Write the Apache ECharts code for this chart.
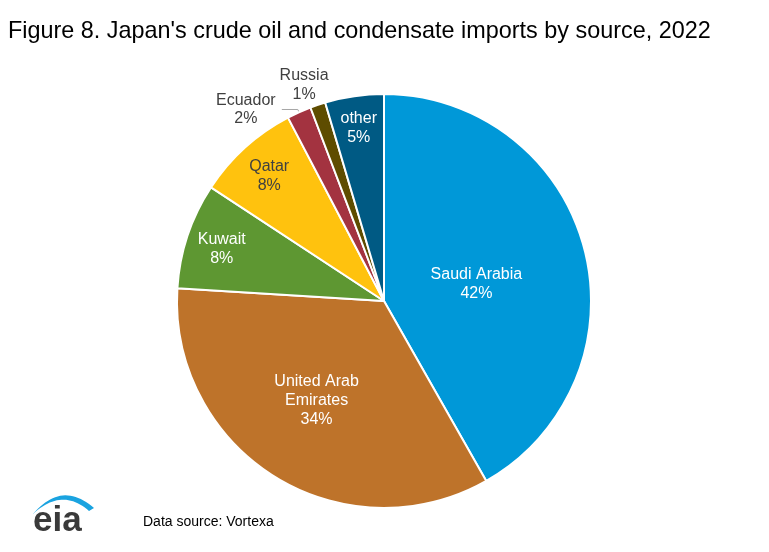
<!DOCTYPE html>
<html>
<head>
<meta charset="utf-8">
<script src="https://cdn.jsdelivr.net/npm/echarts@6/dist/echarts.min.js"></script>
<style>
html,body{margin:0;padding:0;background:#fff;}
#c{width:769px;height:552px;}
</style>
</head>
<body>
<div id="c"></div>
<script>
const categories = ['Saudi Arabia', 'United Arab\nEmirates', 'Kuwait', 'Qatar', 'Ecuador', 'Russia', 'other'];
const values = [41.9, 34.3, 8.3, 8.1, 1.9, 1.2, 4.6];
const colors = ['#0098D8', '#BE732A', '#5E9732', '#FFC20E', '#A33340', '#5E4C00', '#005A84'];
const labelColors = ['#ffffff', '#ffffff', '#ffffff', '#404040', '#404040', '#404040', '#ffffff'];

const chart = echarts.init(document.getElementById('c'));
const FONT = '"Liberation Sans", Arial, sans-serif';
const CENTER = [384, 301];
const R = 207;

function pctFmt(p) { return p.name + '\n' + Math.round(p.percent) + '%'; }

function labelSeries(radius, names, dx, dy) {
  return {
    type: 'pie', center: CENTER, radius: [0, radius], silent: true,
    startAngle: 90, clockwise: true, minShowLabelAngle: 0,
    avoidLabelOverlap: false, z: 5,
    itemStyle: { color: 'rgba(0,0,0,0)', borderWidth: 0 },
    emphasis: { disabled: true },
    labelLine: { show: false },
    labelLayout: { dx: dx || 0, dy: dy || 0 },
    data: categories.map((c, i) => ({
      name: c, value: values[i],
      label: {
        show: names.indexOf(i) >= 0, position: 'inside', formatter: pctFmt,
        color: labelColors[i], fontSize: 16, fontFamily: FONT, lineHeight: 19
      }
    }))
  };
}

const mainData = categories.map((c, i) => {
  const d = { name: c, value: values[i], itemStyle: { color: colors[i] }, label: { show: false } };
  if (i === 4) {
    d.label = {
      show: true, position: 'outside',
      formatter: p => '{a|' + p.name + '}\n{a|' + Math.round(p.percent) + '%}',
      rich: { a: { width: 62, align: 'center', color: '#404040', fontSize: 16, fontFamily: FONT, lineHeight: 18 } }
    };
    d.labelLine = { show: true, length: 3, length2: 16, lineStyle: { color: '#a6a6a6', width: 1 } };
  }
  return d;
});

// swoosh of the logo (decoration)
function quad(p0, p1, p2, n) {
  const pts = [];
  for (let k = 0; k <= n; k++) {
    const t = k / n;
    pts.push([(1 - t) * (1 - t) * p0[0] + 2 * t * (1 - t) * p1[0] + t * t * p2[0],
              (1 - t) * (1 - t) * p0[1] + 2 * t * (1 - t) * p1[1] + t * t * p2[1]]);
  }
  return pts;
}
const swoosh = quad([33, 514], [62, 480], [94, 508], 24).concat(quad([89, 511], [62, 487], [33, 514], 24));

chart.setOption({
  animation: false,
  title: {
    text: "Figure 8. Japan's crude oil and condensate imports by source, 2022",
    left: 3, top: 15,
    textStyle: { fontFamily: FONT, fontSize: 23.4, fontWeight: 'normal', color: '#000' }
  },
  graphic: [
    { type: 'text', x: 143, y: 515, style: { text: 'Data source: Vortexa', font: '14px ' + FONT, fill: '#000' } },
    { type: 'text', x: 33, y: 504, style: { text: 'eia', font: 'bold 35px ' + FONT, fill: '#3a3a3a' } },
    { type: 'polygon', shape: { points: swoosh }, style: { fill: '#1aa3e0' } }
  ],
  series: [
    {
      type: 'pie', center: CENTER, radius: [0, R],
      startAngle: 90, clockwise: true, minShowLabelAngle: 0,
      avoidLabelOverlap: false,
      itemStyle: { borderColor: '#fff', borderWidth: 2 },
      emphasis: { disabled: true },
      data: mainData
    },
    labelSeries(181, [0], 2, 7),
    labelSeries(230, [1], -5, -1),
    labelSeries(336, [2, 3], 0, 2),
    labelSeries(346, [6], 0, 1),
    labelSeries(456, [5], -6, 3)
  ]
});
</script>
</body>
</html>
